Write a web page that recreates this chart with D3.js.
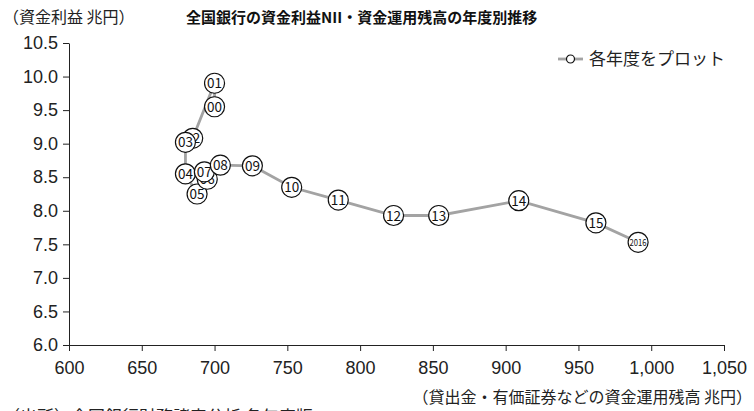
<!DOCTYPE html>
<html>
<head>
<meta charset="utf-8">
<script src="https://cdn.jsdelivr.net/npm/d3@7"></script>
<style>
  body { margin: 0; background: #fff; }
  svg { font-family: "Noto Sans CJK JP", "Noto Sans", sans-serif; }
</style>
</head>
<body>
<div id="chart"></div>
<script>
// 年度ラベル
var years = ["00", "01", "02", "03", "04", "05", "06", "07", "08", "09",
             "10", "11", "12", "13", "14", "15", "2016"];
// 資金運用残高（兆円）
var assets = [700, 700, 685, 680, 680, 688, 695, 693, 704, 726,
              753, 785, 823, 854, 909, 962, 991];
// 資金利益（兆円）
var nii = [9.55, 9.9, 9.08, 9.02, 8.55, 8.25, 8.47, 8.58, 8.68, 8.67,
           8.35, 8.16, 7.93, 7.93, 8.15, 7.82, 7.53];
var xTicks = [600, 650, 700, 750, 800, 850, 900, 950, 1000, 1050];
var yTicks = [6.0, 6.5, 7.0, 7.5, 8.0, 8.5, 9.0, 9.5, 10.0, 10.5];

var width = 754, height = 411;
var margin = {top: 43, right: 30, bottom: 66, left: 69};

var x = d3.scaleLinear().domain([600, 1050]).range([margin.left, width - margin.right]);
var y = d3.scaleLinear().domain([6, 10.5]).range([height - margin.bottom, margin.top]);

var svg = d3.select("#chart").append("svg")
    .attr("width", width)
    .attr("height", height);

// axes
var xAxis = svg.append("g")
    .attr("transform", "translate(0," + (height - margin.bottom) + ")")
    .call(d3.axisBottom(x).tickValues(xTicks).tickFormat(d3.format(",")).tickSize(6).tickPadding(10).tickSizeOuter(0));
xAxis.selectAll("text").attr("font-size", 18).attr("fill", "#222");

var yAxis = svg.append("g")
    .attr("transform", "translate(" + margin.left + ",0)")
    .call(d3.axisLeft(y).tickValues(yTicks).tickFormat(d3.format(".1f")).tickSize(6).tickPadding(5).tickSizeOuter(0));
yAxis.selectAll("text").attr("font-size", 18).attr("fill", "#222");

svg.selectAll(".domain, .tick line").attr("stroke", "#222");

var data = years.map(function(d, i) { return {year: d, x: assets[i], y: nii[i]}; });

// line
var line = d3.line()
    .x(function(d) { return x(d.x); })
    .y(function(d) { return y(d.y); });

svg.append("path")
    .datum(data)
    .attr("fill", "none")
    .attr("stroke", "#a3a3a3")
    .attr("stroke-width", 2.8)
    .attr("d", line);

// points
var pts = svg.selectAll(".pt").data(data)
  .enter().append("g")
    .attr("class", "pt")
    .attr("transform", function(d) { return "translate(" + x(d.x) + "," + y(d.y) + ")"; });

pts.append("circle")
    .attr("r", 10)
    .attr("fill", "#fff")
    .attr("stroke", "#111")
    .attr("stroke-width", 1.2);

pts.append("text")
    .attr("text-anchor", "middle")
    .attr("dy", "0.36em")
    .attr("font-size", function(d) { return d.year.length > 2 ? 9 : 14; })
    .attr("textLength", function(d) { return d.year.length > 2 ? 17 : 15; })
    .attr("lengthAdjust", "spacingAndGlyphs")
    .attr("fill", "#111")
    .text(function(d) { return d.year; });

// legend
var lg = svg.append("g").attr("transform", "translate(558,59)");
lg.append("line").attr("x1", 0).attr("x2", 25).attr("stroke", "#a3a3a3").attr("stroke-width", 2.8);
lg.append("circle").attr("cx", 12.5).attr("r", 4).attr("fill", "#fff").attr("stroke", "#111").attr("stroke-width", 1.2);
lg.append("text").attr("x", 31).attr("dy", "0.36em").attr("font-size", 17).attr("fill", "#222").text("各年度をプロット");

// titles
svg.append("text").attr("x", 3).attr("y", 23).attr("font-size", 16).attr("fill", "#222")
    .text("（資金利益 兆円）");
svg.append("text").attr("x", 186).attr("y", 23).attr("font-size", 15).attr("font-weight", "bold").attr("fill", "#111")
    .text("全国銀行の資金利益NII・資金運用残高の年度別推移");
svg.append("text").attr("x", 752).attr("y", 403).attr("text-anchor", "end").attr("font-size", 16).attr("fill", "#222")
    .text("（貸出金・有価証券などの資金運用残高 兆円）");
svg.append("text").attr("x", 3).attr("y", 423).attr("font-size", 17).attr("fill", "#222")
    .text("（出所）全国銀行財務諸表分析 各年度版");
</script>
</body>
</html>
